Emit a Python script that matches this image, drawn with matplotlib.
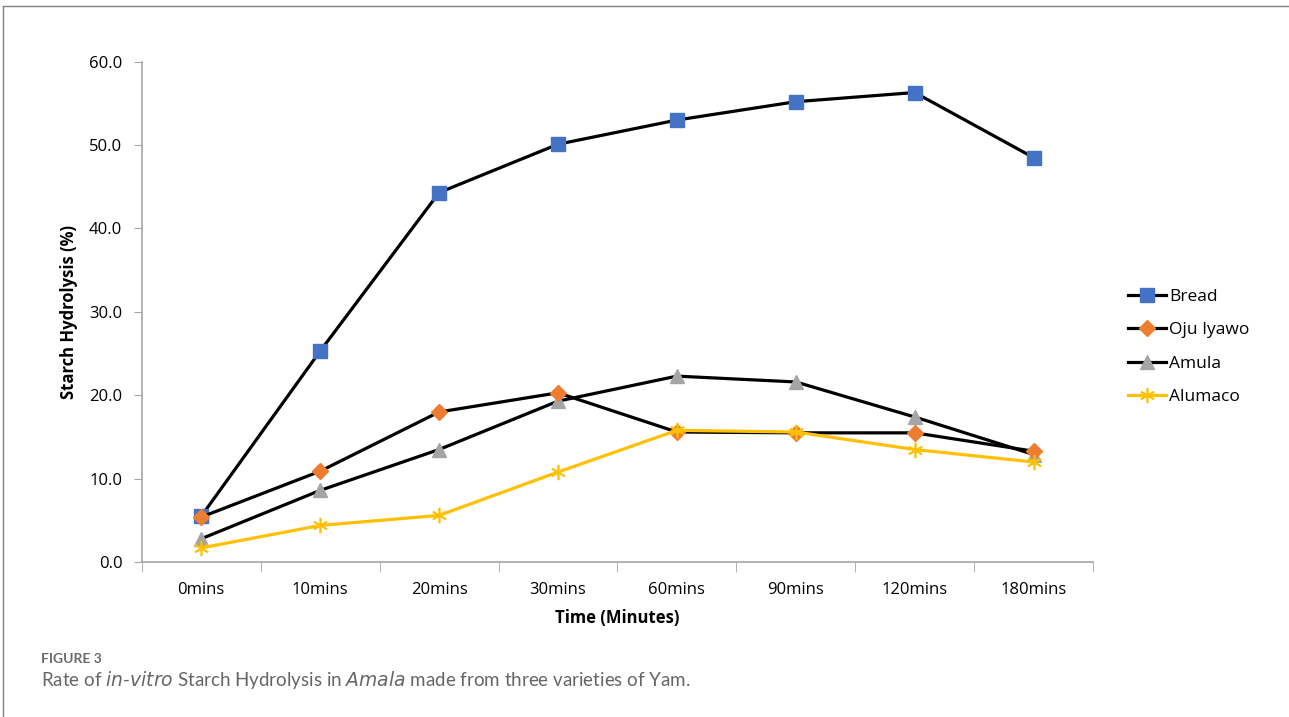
import numpy as np
import matplotlib.pyplot as plt
import matplotlib as mpl
from matplotlib.lines import Line2D

mpl.rcParams.update({
    'font.family': ['Open Sans', 'DejaVu Sans'],
    'font.size': 12,
})

# Hydrolysis data (%)
tempos = ['0mins', '10mins', '20mins', '30mins', '60mins', '90mins', '120mins', '180mins']
bread = [5.5, 25.3, 44.3, 50.1, 53.0, 55.2, 56.3, 48.5]
oju_iyawo = [5.4, 10.9, 18.0, 20.3, 15.6, 15.5, 15.5, 13.3]
amula = [2.8, 8.6, 13.5, 19.3, 22.3, 21.6, 17.4, 12.9]
alumaco = [1.7, 4.4, 5.6, 10.8, 15.8, 15.6, 13.5, 12.0]

fig = plt.figure(figsize=(12.89, 7.17), dpi=100)
ax = fig.add_axes([0.110, 0.216, 0.738, 0.698])

x = np.arange(len(tempos))
ax.plot(x, bread, color='black', lw=2.3, marker='s', ms=10,
        mfc='#4472C4', mec='#4472C4', label='Bread', zorder=3)
ax.plot(x, oju_iyawo, color='black', lw=2.3, marker='D', ms=8.5,
        mfc='#ED7D31', mec='#ED7D31', label='Oju Iyawo', zorder=4)
ax.plot(x, amula, color='black', lw=2.3, marker='^', ms=10.5,
        mfc='#A5A5A5', mec='#A5A5A5', label='Amula', zorder=3)
ax.plot(x, alumaco, color='#FFC000', lw=2.3, marker=(6, 2, 0), ms=11,
        mfc='#FFC000', mec='#FFC000', mew=1.2, label='Alumaco', zorder=5)

ax.set_xlim(-0.5, len(tempos) - 0.5)
ax.set_ylim(0, 60)
ax.set_yticks(np.arange(0, 61, 10))
ax.set_yticklabels([f'{v:.1f}' for v in np.arange(0, 61, 10)])
ax.set_xticks(x)
ax.set_xticklabels(tempos)
ax.set_xticks(np.arange(-0.5, len(tempos)), minor=True)
ax.tick_params(axis='x', which='major', length=0, pad=14, labelsize=12)
ax.tick_params(axis='x', which='minor', length=7, color='#a6a6a6', direction='out')
ax.tick_params(axis='y', length=6, color='#a6a6a6', labelsize=12, pad=8)

for side in ['top', 'right']:
    ax.spines[side].set_visible(False)
for side in ['left', 'bottom']:
    ax.spines[side].set_color('#a6a6a6')
    ax.spines[side].set_linewidth(1.2)

ax.set_xlabel('Time (Minutes)', fontweight='bold', fontsize=12, labelpad=8)
ax.set_ylabel('Starch Hydrolysis (%)', fontweight='bold', fontsize=12, labelpad=8)

ax.legend(loc='center left', bbox_to_anchor=(1.02, 0.43), frameon=False,
          numpoints=1, handlelength=2.2, handletextpad=0.2, labelspacing=1.0,
          fontsize=12.5)

# Border lines of the panel
fig.add_artist(Line2D([0.002, 1.0], [0.991, 0.991], color='#808080', lw=1.0))
fig.add_artist(Line2D([0.002, 0.002], [0.0, 0.991], color='#808080', lw=1.0))

fig.text(0.032, 0.081, 'FIGURE 3', fontsize=10, color='#6a6a6a', fontweight='bold',
         family=['Lato', 'DejaVu Sans'], va='center')
fig.text(0.032, 0.051,
         r'Rate of $\it{in}$-$\it{vitro}$ Starch Hydrolysis in $\it{Amala}$ made from three varieties of Yam.',
         fontsize=13.5, color='#666666', family=['Lato', 'DejaVu Sans'], va='center')

fig.savefig('out.png', dpi=100)
